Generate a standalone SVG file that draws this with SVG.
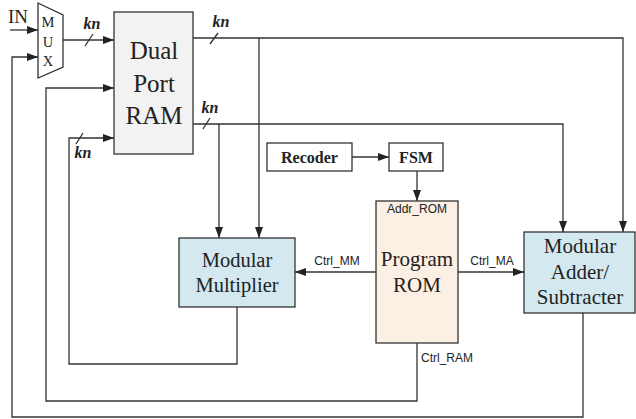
<svg xmlns="http://www.w3.org/2000/svg" width="636" height="419" viewBox="0 0 636 419">
  <defs>
    <marker id="arrow" markerUnits="userSpaceOnUse" markerWidth="12" markerHeight="10" refX="11" refY="4" orient="auto">
      <path d="M0,0 L11,4 L0,8 Z" fill="#222"/>
    </marker>
  </defs>
  <style>
    .box { stroke: #333; stroke-width: 1.3; }
    .wire { fill: none; stroke: #333; stroke-width: 1.3; }
    .serif { font-family: "Liberation Serif", "Times New Roman", serif; fill: #222; }
    .sans { font-family: "Liberation Sans", Arial, sans-serif; fill: #222; font-size: 12px; }
    .kn { font-family: "Liberation Serif", "Times New Roman", serif; font-weight: bold; font-style: italic; font-size: 16px; fill: #222; text-anchor: middle; }
    .mid { text-anchor: middle; }
  </style>

  <rect width="636" height="419" fill="#fff"/>

  <!-- connectors -->
  <g id="connectors">
    <!-- IN to MUX -->
    <path class="wire" d="M10,30 H38" marker-end="url(#arrow)"/>
    <!-- MUX to RAM -->
    <path class="wire" d="M63,40 H114" marker-end="url(#arrow)"/>
    <line class="wire" x1="85" y1="46" x2="93" y2="34"/>
    <!-- RAM port A out -->
    <path class="wire" d="M193,38 H623 V232" marker-end="url(#arrow)"/>
    <path class="wire" d="M259,38 V238" marker-end="url(#arrow)"/>
    <line class="wire" x1="210" y1="44" x2="218" y2="33"/>
    <!-- RAM port B out -->
    <path class="wire" d="M193,124 H563 V232" marker-end="url(#arrow)"/>
    <path class="wire" d="M219,124 V238" marker-end="url(#arrow)"/>
    <line class="wire" x1="203" y1="129" x2="210" y2="118"/>
    <!-- Recoder to FSM -->
    <path class="wire" d="M352,157 H389" marker-end="url(#arrow)"/>
    <!-- FSM to ROM -->
    <path class="wire" d="M417,171 V201" marker-end="url(#arrow)"/>
    <!-- ROM control outputs -->
    <path class="wire" d="M376,272 H295" marker-end="url(#arrow)"/>
    <path class="wire" d="M458,272 H524" marker-end="url(#arrow)"/>
    <!-- Ctrl_RAM back to RAM -->
    <path class="wire" d="M417,343 V401 H46 V88 H114" marker-end="url(#arrow)"/>
    <!-- multiplier result back to RAM -->
    <path class="wire" d="M237,307 V364 H69 V138 H114" marker-end="url(#arrow)"/>
    <line class="wire" x1="76" y1="144" x2="83" y2="133"/>
    <!-- adder result back to MUX -->
    <path class="wire" d="M583,313 V417 H12 V57 H38" marker-end="url(#arrow)"/>
  </g>

  <!-- bus width labels -->
  <g id="bus-labels">
    <text class="kn" x="92" y="29">kn</text>
    <text class="kn" x="221" y="27">kn</text>
    <text class="kn" x="210" y="113">kn</text>
    <text class="kn" x="83" y="158">kn</text>
  </g>

  <g id="in-label">
    <text class="serif" x="8" y="23" font-size="19">IN</text>
  </g>

  <g id="mux">
    <polygon class="box" points="38,3 63,15 63,67 38,78" fill="#fff"/>
    <text class="serif mid" x="48" y="27" font-size="14.5">M</text>
    <text class="serif mid" x="48" y="47" font-size="14.5">U</text>
    <text class="serif mid" x="48" y="66" font-size="14.5">X</text>
  </g>

  <g id="dual-port-ram">
    <rect class="box" x="114" y="12" width="79" height="142" fill="#f2f2f2"/>
    <text class="serif mid" x="154" y="59" font-size="25">Dual</text>
    <text class="serif mid" x="154" y="92" font-size="25">Port</text>
    <text class="serif mid" x="154" y="124" font-size="25">RAM</text>
  </g>

  <g id="recoder">
    <rect class="box" x="267" y="143" width="85" height="28" fill="#fff"/>
    <text class="serif mid" x="309.5" y="163" font-size="16" font-weight="bold">Recoder</text>
  </g>

  <g id="fsm">
    <rect class="box" x="389" y="143" width="54" height="28" fill="#fff"/>
    <text class="serif mid" x="416" y="163" font-size="16" font-weight="bold">FSM</text>
  </g>

  <g id="modular-multiplier">
    <rect class="box" x="179" y="238" width="116" height="69" fill="#d3e8ef"/>
    <text class="serif mid" x="237" y="267" font-size="20.5">Modular</text>
    <text class="serif mid" x="237" y="292" font-size="20.5">Multiplier</text>
  </g>

  <g id="program-rom">
    <rect class="box" x="376" y="201" width="82" height="142" fill="#fcefe3"/>
    <text class="sans mid" x="417" y="213">Addr_ROM</text>
    <text class="serif mid" x="417" y="266" font-size="21">Program</text>
    <text class="serif mid" x="417" y="292" font-size="21">ROM</text>
  </g>

  <g id="modular-adder">
    <rect class="box" x="524" y="232" width="111" height="81" fill="#d3e8ef"/>
    <text class="serif mid" x="580" y="253" font-size="21">Modular</text>
    <text class="serif mid" x="580" y="279" font-size="21">Adder/</text>
    <text class="serif mid" x="580" y="304" font-size="21">Subtracter</text>
  </g>

  <g id="control-labels">
    <text class="sans mid" x="337" y="265">Ctrl_MM</text>
    <text class="sans mid" x="492" y="265">Ctrl_MA</text>
    <text class="sans" x="421" y="362">Ctrl_RAM</text>
  </g>
</svg>
